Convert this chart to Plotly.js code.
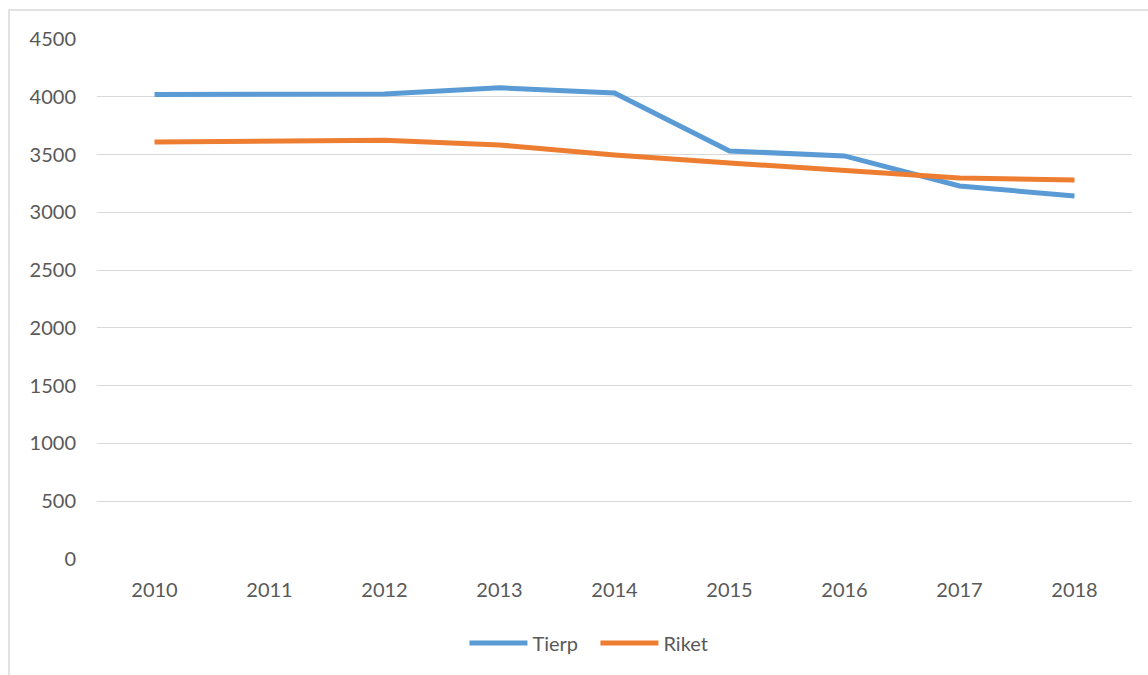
<!DOCTYPE html>
<html>
<head>
<meta charset="utf-8">
<script src="https://cdn.plot.ly/plotly-3.0.1.min.js"></script>
<style>html,body{margin:0;padding:0;background:#fff;}#chart{width:1148px;height:675px;}</style>
</head>
<body>
<div id="chart"></div>
<script>
const years = ["2010","2011","2012","2013","2014","2015","2016","2017","2018"];
const tierp = [4020, 4020, 4023, 4078, 4032, 3531, 3488, 3228, 3141];
const riket = [3609, 3617, 3624, 3583, 3496, 3427, 3358, 3297, 3280];
const yTicks = [0, 500, 1000, 1500, 2000, 2500, 3000, 3500, 4000, 4500];

const font = {family: "Lato, 'Open Sans', sans-serif", size: 20, color: "#595959"};

const traces = [
  {x: years, y: tierp, name: "Tierp", type: "scatter", mode: "lines",
   line: {color: "#5B9BD5", width: 5}},
  {x: years, y: riket, name: "Riket", type: "scatter", mode: "lines",
   line: {color: "#ED7D31", width: 5}}
];

const layout = {
  width: 1148, height: 675,
  margin: {l: 97, r: 16, t: 39, b: 116},
  paper_bgcolor: "#fff", plot_bgcolor: "#fff",
  font: font,
  showlegend: true,
  legend: {orientation: "h", x: 0.4816, xanchor: "center", y: -0.1615, yanchor: "middle",
           font: font, itemwidth: 58, tracegroupgap: 0, entrywidth: 58, entrywidthmode: "pixels"},
  xaxis: {type: "category", range: [-0.5, 8.5], showgrid: false, zeroline: false,
          showline: false, ticks: "", tickfont: font, ticklabelstandoff: 17, fixedrange: true},
  yaxis: {range: [0, 4500], tickvals: yTicks, ticktext: yTicks.map(String),
          showgrid: true, gridcolor: "#D9D9D9", gridwidth: 1, zeroline: false,
          showline: false, ticks: "", tickfont: font, ticklabelstandoff: 20, fixedrange: true},
  shapes: [
    {type: "rect", xref: "paper", yref: "paper", x0: -0.085, x1: 1.2, y0: -0.4, y1: 1.0558,
     line: {color: "#D9D9D9", width: 1.5}, fillcolor: "rgba(0,0,0,0)", layer: "below"}
  ]
};

Plotly.newPlot("chart", traces, layout, {displayModeBar: false, staticPlot: true});
</script>
</body>
</html>
